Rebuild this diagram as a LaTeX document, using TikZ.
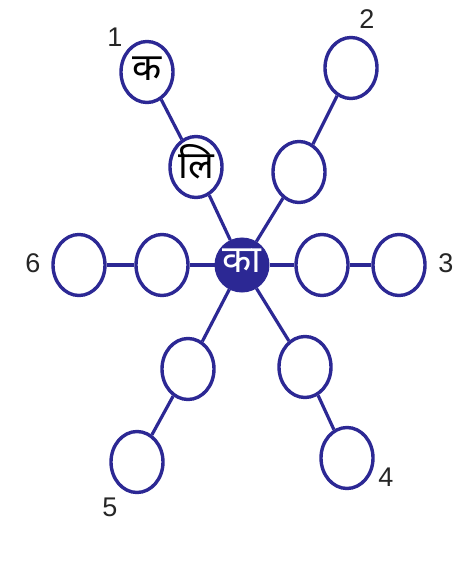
\documentclass[tikz,border=0pt]{standalone}
\usepackage{fontspec}
\setmainfont{Liberation Sans}
\newfontfamily\deva[Script=Devanagari]{Noto Sans}
\usetikzlibrary{shapes.geometric}
\definecolor{inkblue}{RGB}{44,40,148}
\tikzset{
  ring/.style={ellipse,draw=inkblue,line width=3.4pt,fill=white,minimum width=52pt,minimum height=61pt,inner sep=0pt},
  hub/.style={circle,fill=inkblue,draw=inkblue,line width=1pt,minimum size=54pt,inner sep=0pt,text=white},
  spoke/.style={draw=inkblue,line width=3.2pt},
  num/.style={font=\fontsize{27}{27}\selectfont,text=black!85},
  dev/.style={font=\deva\fontsize{38}{38}\selectfont}
}
\begin{document}
\begin{tikzpicture}[x=1pt,y=-1pt]
\useasboundingbox (0,0) rectangle (462,583);
\fill[white] (0,0) rectangle (462,583);
\node[hub] (hub) at (242,265) {};
\node[ring] (a1) at (196,167) {};
\node[ring] (b1) at (147,72) {};
\node[ring] (a2) at (299,172) {};
\node[ring] (b2) at (351,68) {};
\node[ring] (a3) at (322,265) {};
\node[ring] (b3) at (399,265) {};
\node[ring] (a4) at (305,367) {};
\node[ring] (b4) at (347,458) {};
\node[ring] (a5) at (188,369) {};
\node[ring] (b5) at (137,462) {};
\node[ring] (a6) at (162,265) {};
\node[ring] (b6) at (79,265) {};
\foreach \i in {1,...,6}{
  \draw[spoke] (hub) -- (a\i);
  \draw[spoke] (a\i) -- (b\i);
}
\node[dev,text=white] (t0) at (242,261) {का};
\node[dev] (t1) at (196,162) {लि};
\node[dev] (t2) at (147,69) {क};
\node[num] (n1) at (115,37) {1};
\node[num] (n2) at (367,19) {2};
\node[num] (n3) at (446,263) {3};
\node[num] (n4) at (386,477) {4};
\node[num] (n5) at (110,507) {5};
\node[num] (n6) at (33,263) {6};
\end{tikzpicture}
\end{document}
